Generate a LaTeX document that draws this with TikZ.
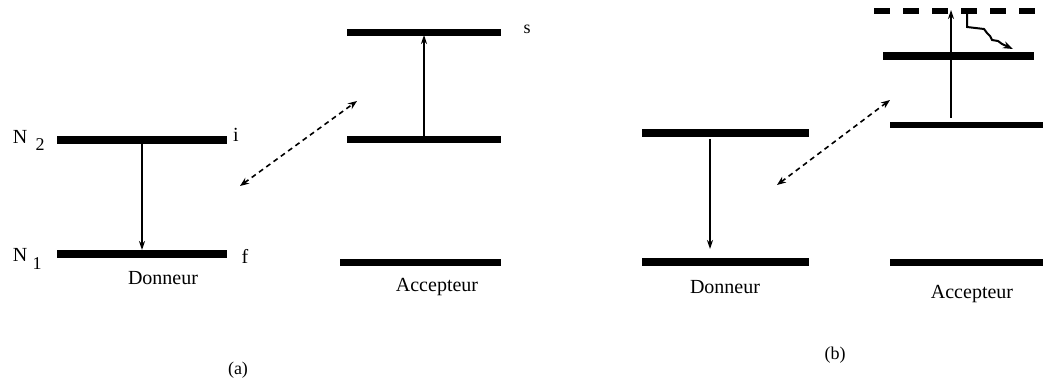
\documentclass[tikz,border=0pt]{standalone}
\usepackage{fontspec}
\setmainfont{Liberation Serif}
\usetikzlibrary{arrows.meta}
\begin{document}
\begin{tikzpicture}[x=1pt,y=-1pt,
  thicklevel/.style={line width=8.5pt},
  midlevel/.style={line width=7pt},
  thinlevel/.style={line width=5.5pt},
  trans/.style={line width=1.6pt,-{Stealth[length=9pt,width=6pt]}},
  exch/.style={line width=1.6pt,dash pattern=on 5pt off 4pt,{Stealth[length=9pt,width=7pt,open]}-{Stealth[length=9pt,width=7pt]}},
  lbl/.style={inner sep=0pt,font=\fontsize{20}{22}\selectfont},
  small/.style={inner sep=0pt,font=\fontsize{18}{20}\selectfont}]
\useasboundingbox (0,0) rectangle (1050,385);
% ---------- panel (a) ----------
\coordinate (aD2l) at (57,140); \coordinate (aD2r) at (227,140);
\coordinate (aD1l) at (57,254); \coordinate (aD1r) at (227,254);
\coordinate (aA3l) at (347,33); \coordinate (aA3r) at (501,33);
\coordinate (aA2l) at (347,140); \coordinate (aA2r) at (501,140);
\coordinate (aA1l) at (340,262); \coordinate (aA1r) at (501,262);
\draw[thicklevel] (aD2l) -- (aD2r);
\draw[thicklevel] (aD1l) -- (aD1r);
\draw[midlevel] (aA3l) -- (aA3r);
\draw[midlevel] (aA2l) -- (aA2r);
\draw[midlevel] (aA1l) -- (aA1r);
\coordinate (aDs) at (142,144); \coordinate (aDe) at (142,250);
\draw[trans] (aDs) -- (aDe);
\coordinate (aAs) at (424,137); \coordinate (aAe) at (424,35);
\draw[trans] (aAs) -- (aAe);
\coordinate (aX1) at (240,186); \coordinate (aX2) at (357,101);
\draw[exch] (aX1) -- (aX2);
\node[lbl] (N2) at (20,137) {N};
\node[small] (N2s) at (40,145) {2};
\node[lbl] (N1) at (20,255) {N};
\node[small] (N1s) at (37,264) {1};
\node[lbl] (li) at (236,135) {i};
\node[lbl] (lf) at (245,256) {f};
\node[small] (ls) at (527,29) {s};
\node[lbl] (aDon) at (163,278) {Donneur};
\node[lbl] (aAcc) at (437,287) {Accepteur};
\node[small] (capa) at (238,370) {(a)};
% ---------- panel (b) ----------
\coordinate (bD2l) at (642,133); \coordinate (bD2r) at (809,133);
\coordinate (bD1l) at (642,262); \coordinate (bD1r) at (809,262);
\coordinate (bVl) at (874,11); \coordinate (bVr) at (1044,11);
\coordinate (bA3l) at (883,56); \coordinate (bA3r) at (1034,56);
\coordinate (bA2l) at (890,125); \coordinate (bA2r) at (1043,125);
\coordinate (bA1l) at (890,262); \coordinate (bA1r) at (1043,262);
\draw[thicklevel] (bD2l) -- (bD2r);
\draw[thicklevel] (bD1l) -- (bD1r);
\draw[line width=6pt,dash pattern=on 16pt off 13pt] (bVl) -- (bVr);
\draw[thicklevel] (bA3l) -- (bA3r);
\draw[thinlevel] (bA2l) -- (bA2r);
\draw[midlevel] (bA1l) -- (bA1r);
\coordinate (bDs) at (710,139); \coordinate (bDe) at (710,249);
\draw[trans] (bDs) -- (bDe);
\coordinate (bAs) at (951,118); \coordinate (bAe) at (951,10);
\draw[trans] (bAs) -- (bAe);
\coordinate (bX1) at (777,185); \coordinate (bX2) at (890,100);
\draw[exch] (bX1) -- (bX2);
\coordinate (bWs) at (967,12); \coordinate (bWe) at (1013,49);
\draw[line width=2pt,-{Stealth[length=10pt,width=7pt]}] (bWs) -- (967,27) -- (984,29) -- (987,33) -- (990,36) -- (992,40) -- (998,41) -- (1002,44) -- (bWe);
\node[lbl] (bDon) at (725,287) {Donneur};
\node[lbl] (bAcc) at (972,294) {Accepteur};
\node[small] (capb) at (835,355) {(b)};
\end{tikzpicture}
\end{document}
